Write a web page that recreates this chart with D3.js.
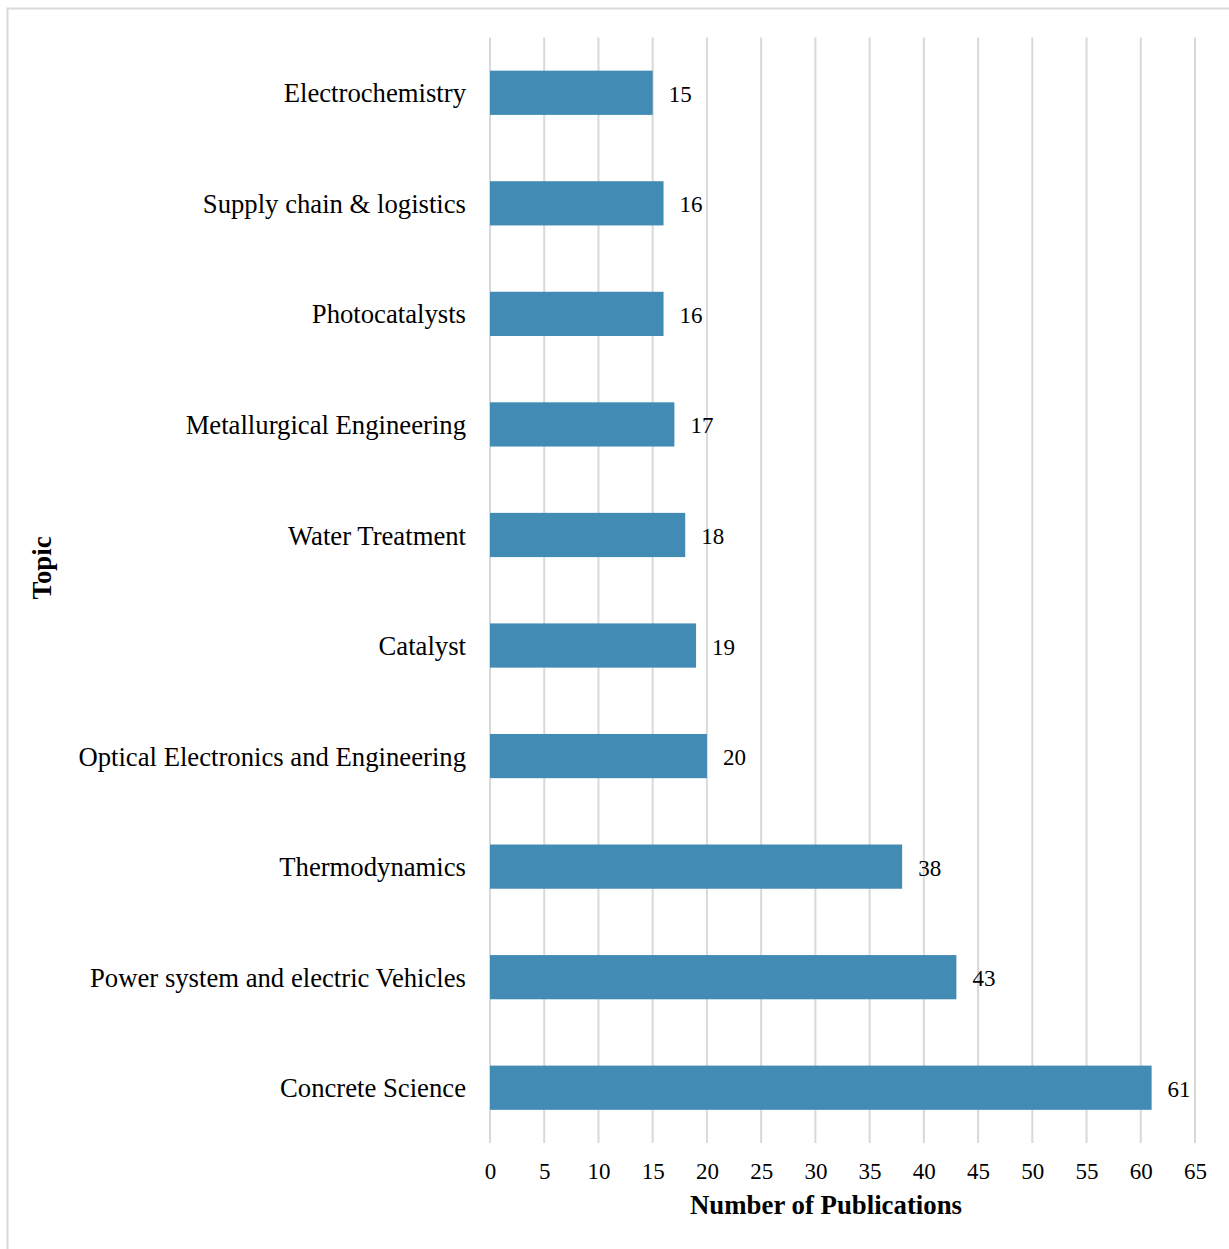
<!DOCTYPE html>
<html><head><meta charset="utf-8">
<script src="https://cdn.jsdelivr.net/npm/d3@7"></script>
<style>body{margin:0;background:#fff}svg{display:block}</style>
</head><body>
<script>
const categories = ["Electrochemistry","Supply chain & logistics","Photocatalysts","Metallurgical Engineering","Water Treatment","Catalyst","Optical Electronics and Engineering","Thermodynamics","Power system and electric Vehicles","Concrete Science"];
const values = [15,16,16,17,18,19,20,38,43,61];
const xTicks = [0,5,10,15,20,25,30,35,40,45,50,55,60,65];
const xTitle = "Number of Publications";
const yTitle = "Topic";

(function(){
const W = 1229, H = 1249;
const svg = d3.select("body").append("svg").attr("width", W).attr("height", H);
const font = "'Liberation Serif','Times New Roman',serif";

svg.append("rect").attr("x",7.5).attr("y",8.5).attr("width",1240).attr("height",1260)
  .attr("fill","none").attr("stroke","#d9d9d9").attr("stroke-width",2);

const pl = 490, pr = 1195, pt = 37.5, pb = 1143;
const x = d3.scaleLinear().domain([0,65]).range([pl,pr]);
const y = d3.scaleBand().domain(categories).range([pt,pb]).paddingInner(0.6).paddingOuter(0.3);

svg.append("g").selectAll("line").data(xTicks).join("line")
  .attr("x1",d=>x(d)).attr("x2",d=>x(d)).attr("y1",pt).attr("y2",pb)
  .attr("stroke","#d9d9d9").attr("stroke-width",2);

svg.append("g").selectAll("rect").data(values).join("rect")
  .attr("x",x(0)).attr("y",(d,i)=>y(categories[i]))
  .attr("width",d=>x(d)-x(0)).attr("height",y.bandwidth())
  .attr("fill","#428bb5");

svg.append("g").selectAll("text").data(values).join("text")
  .attr("x",d=>x(d)+16).attr("y",(d,i)=>y(categories[i])+y.bandwidth()/2+1)
  .attr("dy","0.35em").attr("font-family",font).attr("font-size",23).attr("fill","#000")
  .text(d=>d);

const yAxis = svg.append("g").attr("transform",`translate(${pl},1)`)
  .call(d3.axisLeft(y).tickSize(0).tickPadding(24));
yAxis.select(".domain").remove();
yAxis.selectAll("text").attr("font-family",font).attr("font-size",26.7).attr("fill","#000");

const xAxis = svg.append("g").attr("transform",`translate(0,${pb})`)
  .call(d3.axisBottom(x).tickValues(xTicks).tickSize(0).tickPadding(20));
xAxis.select(".domain").remove();
xAxis.selectAll("text").attr("font-family",font).attr("font-size",23).attr("fill","#000");

svg.append("text").attr("x",(pl+pr)/2-16.5).attr("y",1214)
  .attr("text-anchor","middle").attr("font-family",font).attr("font-size",26.8)
  .attr("font-weight","bold").text(xTitle);

svg.append("text").attr("transform","translate(51,568) rotate(-90)")
  .attr("text-anchor","middle").attr("font-family",font).attr("font-size",26.8)
  .attr("font-weight","bold").text(yTitle);
})();
</script>
</body></html>
